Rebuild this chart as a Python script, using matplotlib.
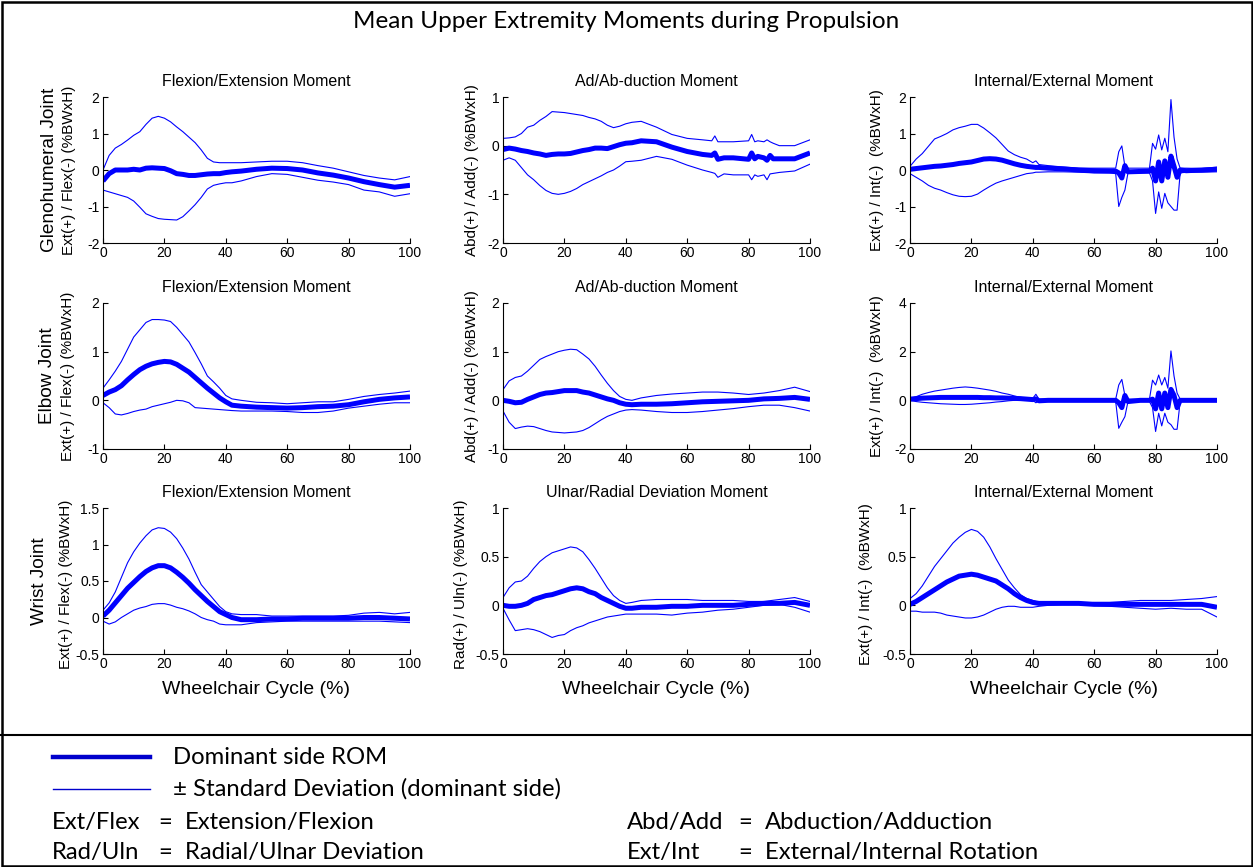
import matplotlib.pyplot as plt
from matplotlib.lines import Line2D
from matplotlib.patches import Rectangle
from matplotlib.ticker import FormatStrFormatter

# ---- data (% BW x H) ----
X = [0, 2, 4, 6, 8, 10, 12, 14, 16, 18, 20, 22, 24, 26, 28, 30, 32, 34, 36, 38, 40, 42,
     45, 50, 55, 60, 65, 70, 75, 80, 85, 90, 95, 100]

# glenohumeral, flexion/extension
gh_fe_mean = [-0.3, -0.1, 0.0, 0.0, 0.0, 0.02, 0.0, 0.05, 0.06, 0.05, 0.04, -0.02, -0.1, -0.12,
              -0.15, -0.15, -0.13, -0.11, -0.1, -0.1, -0.07, -0.05, -0.03, 0.02, 0.05, 0.04, 0.0,
              -0.08, -0.14, -0.22, -0.32, -0.4, -0.47, -0.42]
gh_fe_up = [0.0, 0.4, 0.6, 0.7, 0.82, 0.95, 1.05, 1.25, 1.42, 1.47, 1.42, 1.32, 1.18, 1.05, 0.9,
            0.75, 0.55, 0.32, 0.22, 0.2, 0.2, 0.2, 0.2, 0.22, 0.24, 0.24, 0.2, 0.12, 0.05, -0.05,
            -0.15, -0.22, -0.27, -0.18]
gh_fe_lo = [-0.55, -0.6, -0.65, -0.7, -0.75, -0.85, -1.02, -1.2, -1.27, -1.33, -1.35, -1.36, -1.37,
            -1.28, -1.12, -0.95, -0.75, -0.52, -0.42, -0.38, -0.35, -0.35, -0.3, -0.18, -0.1, -0.12,
            -0.2, -0.28, -0.33, -0.4, -0.55, -0.6, -0.72, -0.65]

# glenohumeral, ad/abduction
X_gh_aa = [0, 2, 4, 6, 8, 10, 12, 14, 16, 18, 20, 22, 24, 26, 28, 30, 32, 34, 36, 38, 40, 42, 45,
           50, 55, 60, 65, 68, 69, 70, 72, 75, 80, 81, 82, 83, 85, 86, 87, 88, 90, 95, 100]
gh_aa_mean = [-0.08, -0.05, -0.07, -0.1, -0.12, -0.15, -0.17, -0.2, -0.18, -0.17, -0.17, -0.16,
              -0.13, -0.1, -0.08, -0.05, -0.05, -0.06, -0.02, 0.02, 0.05, 0.06, 0.1, 0.08, -0.03,
              -0.12, -0.18, -0.2, -0.15, -0.28, -0.25, -0.25, -0.28, -0.15, -0.27, -0.22, -0.25,
              -0.3, -0.2, -0.27, -0.27, -0.27, -0.15]
gh_aa_up = [0.15, 0.16, 0.18, 0.25, 0.38, 0.42, 0.52, 0.6, 0.7, 0.69, 0.68, 0.66, 0.64, 0.62, 0.58,
            0.55, 0.5, 0.42, 0.37, 0.4, 0.45, 0.48, 0.5, 0.38, 0.23, 0.15, 0.12, 0.1, 0.2, 0.08,
            0.08, 0.08, 0.1, 0.23, 0.08, 0.1, 0.08, 0.12, 0.08, 0.05, 0.0, 0.0, 0.12]
gh_aa_lo = [-0.3, -0.25, -0.3, -0.45, -0.6, -0.7, -0.82, -0.92, -0.98, -1.0, -0.98, -0.94, -0.88,
            -0.8, -0.74, -0.68, -0.62, -0.55, -0.5, -0.42, -0.33, -0.32, -0.3, -0.22, -0.28, -0.4,
            -0.5, -0.55, -0.57, -0.65, -0.58, -0.6, -0.6, -0.7, -0.6, -0.63, -0.6, -0.7, -0.58,
            -0.57, -0.55, -0.52, -0.38]

# internal/external panels share a finer grid around the spikes
X_ie = [0, 2, 4, 6, 8, 10, 12, 14, 16, 18, 20, 22, 24, 26, 28, 30, 32, 34, 36, 38, 40, 41, 42, 45,
        50, 55, 60, 65, 67, 68, 69, 70, 71, 75, 78, 79, 80, 81, 82, 83, 84, 85, 86, 87, 88, 90,
        95, 100]
gh_ie_mean = [0.02, 0.04, 0.06, 0.08, 0.1, 0.11, 0.13, 0.15, 0.18, 0.2, 0.22, 0.26, 0.3, 0.31,
              0.3, 0.27, 0.22, 0.17, 0.13, 0.1, 0.08, 0.07, 0.07, 0.05, 0.03, 0.0, -0.02, -0.03,
              -0.03, -0.08, -0.22, 0.12, -0.05, -0.04, -0.03, 0.05, -0.3, 0.22, -0.3, 0.25, -0.2,
              0.38, 0.1, -0.2, 0.0, -0.02, 0.0, 0.02]
gh_ie_up = [0.1, 0.3, 0.45, 0.65, 0.85, 0.92, 1.0, 1.1, 1.16, 1.2, 1.25, 1.25, 1.15, 1.02, 0.88,
            0.7, 0.52, 0.42, 0.35, 0.3, 0.2, 0.25, 0.15, 0.12, 0.08, 0.05, 0.05, 0.05, 0.05, 0.5,
            0.66, 0.1, 0.05, 0.05, 0.05, 0.73, 0.57, 0.96, 0.55, 0.87, 0.5, 1.93, 0.9, 0.3, 0.05,
            0.05, 0.04, 0.08]
gh_ie_lo = [-0.1, -0.2, -0.3, -0.42, -0.5, -0.55, -0.62, -0.68, -0.72, -0.73, -0.72, -0.66, -0.55,
            -0.45, -0.36, -0.3, -0.25, -0.2, -0.15, -0.1, -0.08, -0.06, -0.06, -0.05, -0.05, -0.06,
            -0.08, -0.08, -0.1, -1.0, -0.75, -0.55, -0.08, -0.08, -0.08, -0.3, -1.19, -0.6, -1.05,
            -0.64, -0.9, -1.0, -1.1, -1.1, -0.08, -0.06, -0.06, -0.05]

# elbow
el_fe_mean = [0.1, 0.17, 0.22, 0.3, 0.42, 0.53, 0.63, 0.7, 0.75, 0.78, 0.8, 0.79, 0.74, 0.66, 0.58,
              0.47, 0.36, 0.25, 0.15, 0.05, -0.03, -0.1, -0.12, -0.14, -0.15, -0.16, -0.15, -0.13,
              -0.12, -0.09, -0.03, 0.02, 0.05, 0.07]
el_fe_up = [0.25, 0.42, 0.6, 0.8, 1.05, 1.3, 1.45, 1.6, 1.66, 1.66, 1.65, 1.62, 1.5, 1.35, 1.2,
            0.98, 0.75, 0.5, 0.38, 0.25, 0.1, 0.03, 0.0, -0.04, -0.05, -0.07, -0.05, -0.03, -0.03,
            0.02, 0.08, 0.12, 0.15, 0.19]
el_fe_lo = [-0.05, -0.15, -0.28, -0.3, -0.27, -0.23, -0.2, -0.18, -0.13, -0.1, -0.07, -0.04, 0.0,
            -0.01, -0.05, -0.15, -0.16, -0.17, -0.18, -0.19, -0.2, -0.21, -0.22, -0.22, -0.22,
            -0.23, -0.25, -0.25, -0.22, -0.16, -0.12, -0.08, -0.05, -0.05]

el_aa_mean = [0.0, -0.02, -0.05, -0.04, 0.02, 0.07, 0.12, 0.15, 0.16, 0.18, 0.2, 0.2, 0.2, 0.17,
              0.15, 0.11, 0.07, 0.03, 0.0, -0.05, -0.08, -0.09, -0.08, -0.08, -0.07, -0.05, -0.03,
              -0.02, -0.01, 0.0, 0.03, 0.04, 0.06, 0.02]
el_aa_up = [0.22, 0.4, 0.47, 0.5, 0.6, 0.72, 0.84, 0.9, 0.95, 1.0, 1.03, 1.05, 1.04, 0.95, 0.85,
            0.7, 0.52, 0.35, 0.2, 0.08, 0.02, 0.0, 0.05, 0.1, 0.13, 0.15, 0.17, 0.17, 0.15, 0.12,
            0.15, 0.2, 0.27, 0.18]
el_aa_lo = [-0.22, -0.45, -0.58, -0.55, -0.53, -0.54, -0.58, -0.62, -0.65, -0.66, -0.67, -0.66,
            -0.65, -0.62, -0.56, -0.48, -0.4, -0.33, -0.28, -0.23, -0.2, -0.19, -0.2, -0.23,
            -0.25, -0.25, -0.23, -0.2, -0.17, -0.13, -0.1, -0.1, -0.15, -0.22]

el_ie_mean = [0.05, 0.07, 0.09, 0.1, 0.11, 0.12, 0.12, 0.12, 0.12, 0.12, 0.12, 0.12, 0.11, 0.11,
              0.1, 0.1, 0.09, 0.08, 0.07, 0.05, 0.03, 0.06, -0.02, 0.0, 0.0, 0.0, 0.0, 0.0, 0.0,
              -0.1, -0.3, 0.2, -0.05, 0.0, 0.0, 0.05, -0.35, 0.3, -0.35, 0.3, -0.3, 0.45, 0.2,
              -0.3, 0.0, 0.0, 0.0, 0.0]
el_ie_up = [0.08, 0.15, 0.25, 0.32, 0.38, 0.42, 0.46, 0.5, 0.53, 0.55, 0.53, 0.5, 0.46, 0.42, 0.37,
            0.3, 0.25, 0.18, 0.12, 0.1, 0.08, 0.25, 0.05, 0.05, 0.05, 0.05, 0.05, 0.05, 0.05, 0.63,
            0.86, 0.2, 0.05, 0.05, 0.05, 0.83, 0.63, 1.04, 0.63, 0.94, 0.5, 2.03, 1.0, 0.3, 0.05,
            0.05, 0.05, 0.05]
el_ie_lo = [0.0, -0.05, -0.08, -0.1, -0.12, -0.14, -0.15, -0.16, -0.17, -0.17, -0.16, -0.14, -0.12,
            -0.1, -0.07, -0.05, -0.02, 0.0, 0.03, 0.02, 0.0, -0.1, -0.02, -0.05, -0.05, -0.05,
            -0.05, -0.05, -0.05, -1.15, -0.9, -0.67, -0.05, -0.05, -0.05, -0.3, -1.28, -0.53,
            -1.05, -0.53, -0.9, -1.0, -1.19, -1.19, -0.05, -0.05, -0.05, -0.05]

# wrist
wr_fe_mean = [0.02, 0.1, 0.2, 0.3, 0.4, 0.48, 0.56, 0.63, 0.68, 0.71, 0.71, 0.68, 0.62, 0.55, 0.47,
              0.38, 0.3, 0.22, 0.15, 0.08, 0.04, 0.0, -0.03, -0.03, -0.02, -0.02, -0.01, -0.01,
              -0.01, -0.01, 0.0, 0.0, -0.01, -0.02]
wr_fe_up = [0.1, 0.2, 0.35, 0.55, 0.75, 0.9, 1.02, 1.12, 1.2, 1.23, 1.22, 1.17, 1.08, 0.95, 0.8,
            0.62, 0.45, 0.35, 0.25, 0.15, 0.08, 0.05, 0.04, 0.04, 0.02, 0.02, 0.02, 0.02, 0.02,
            0.03, 0.06, 0.07, 0.05, 0.07]
wr_fe_lo = [-0.05, -0.09, -0.06, 0.0, 0.05, 0.1, 0.13, 0.15, 0.18, 0.19, 0.19, 0.17, 0.14, 0.12,
            0.09, 0.05, 0.0, -0.03, -0.05, -0.09, -0.1, -0.1, -0.1, -0.07, -0.06, -0.05, -0.05,
            -0.05, -0.05, -0.05, -0.05, -0.05, -0.06, -0.07]

wr_ur_mean = [0.0, -0.01, -0.01, 0.0, 0.02, 0.06, 0.08, 0.1, 0.11, 0.13, 0.15, 0.17, 0.18, 0.17,
              0.14, 0.12, 0.08, 0.05, 0.02, -0.01, -0.03, -0.03, -0.02, -0.02, -0.01, -0.01, 0.0,
              0.0, 0.0, 0.01, 0.02, 0.02, 0.03, 0.0]
wr_ur_up = [0.08, 0.18, 0.24, 0.25, 0.3, 0.38, 0.45, 0.5, 0.54, 0.56, 0.58, 0.6, 0.59, 0.55, 0.47,
            0.38, 0.28, 0.18, 0.1, 0.05, 0.02, 0.03, 0.05, 0.06, 0.06, 0.06, 0.05, 0.05, 0.05,
            0.04, 0.04, 0.06, 0.08, 0.04]
wr_ur_lo = [-0.03, -0.15, -0.26, -0.25, -0.24, -0.25, -0.27, -0.3, -0.33, -0.31, -0.3, -0.26,
            -0.23, -0.21, -0.18, -0.16, -0.14, -0.12, -0.11, -0.1, -0.09, -0.09, -0.09, -0.09,
            -0.1, -0.08, -0.07, -0.05, -0.04, -0.02, 0.0, 0.01, -0.02, -0.07]

wr_ie_mean = [0.01, 0.04, 0.08, 0.12, 0.16, 0.2, 0.24, 0.27, 0.3, 0.31, 0.32, 0.31, 0.29, 0.27,
              0.25, 0.21, 0.17, 0.12, 0.08, 0.05, 0.03, 0.02, 0.02, 0.02, 0.02, 0.01, 0.01, 0.01,
              0.01, 0.01, 0.01, 0.01, 0.01, -0.02]
wr_ie_up = [0.07, 0.12, 0.2, 0.3, 0.4, 0.48, 0.56, 0.64, 0.7, 0.75, 0.78, 0.76, 0.7, 0.6, 0.48,
            0.37, 0.26, 0.18, 0.11, 0.07, 0.05, 0.03, 0.02, 0.02, 0.02, 0.03, 0.03, 0.04, 0.05,
            0.05, 0.05, 0.06, 0.07, 0.09]
wr_ie_lo = [-0.06, -0.06, -0.07, -0.07, -0.07, -0.08, -0.1, -0.11, -0.12, -0.13, -0.13, -0.12,
            -0.1, -0.07, -0.04, -0.02, -0.01, -0.01, -0.02, -0.02, -0.02, -0.01, 0.0, 0.01, 0.01,
            0.0, -0.01, -0.02, -0.03, -0.04, -0.03, -0.04, -0.04, -0.12]

joints = ['Glenohumeral Joint', 'Elbow Joint', 'Wrist Joint']
titles = [['Flexion/Extension Moment', 'Ad/Ab-duction Moment', 'Internal/External Moment'],
          ['Flexion/Extension Moment', 'Ad/Ab-duction Moment', 'Internal/External Moment'],
          ['Flexion/Extension Moment', 'Ulnar/Radial Deviation Moment', 'Internal/External Moment']]
ylabels = [['Ext(+) / Flex(-) (%BWxH)', 'Abd(+) / Add(-) (%BWxH)', 'Ext(+) / Int(-)  (%BWxH)'],
           ['Ext(+) / Flex(-) (%BWxH)', 'Abd(+) / Add(-) (%BWxH)', 'Ext(+) / Int(-)  (%BWxH)'],
           ['Ext(+) / Flex(-) (%BWxH)', 'Rad(+) / Uln(-) (%BWxH)', 'Ext(+) / Int(-)  (%BWxH)']]
yticks = [[[-2, -1, 0, 1, 2], [-2, -1, 0, 1], [-2, -1, 0, 1, 2]],
          [[-1, 0, 1, 2], [-1, 0, 1, 2], [-2, 0, 2, 4]],
          [[-0.5, 0, 0.5, 1, 1.5], [-0.5, 0, 0.5, 1], [-0.5, 0, 0.5, 1]]]
series = [[(X, gh_fe_mean, gh_fe_up, gh_fe_lo), (X_gh_aa, gh_aa_mean, gh_aa_up, gh_aa_lo),
           (X_ie, gh_ie_mean, gh_ie_up, gh_ie_lo)],
          [(X, el_fe_mean, el_fe_up, el_fe_lo), (X, el_aa_mean, el_aa_up, el_aa_lo),
           (X_ie, el_ie_mean, el_ie_up, el_ie_lo)],
          [(X, wr_fe_mean, wr_fe_up, wr_fe_lo), (X, wr_ur_mean, wr_ur_up, wr_ur_lo),
           (X, wr_ie_mean, wr_ie_up, wr_ie_lo)]]

# ---- layout in pixels ----
W, H = 1253, 867
col_left = [103, 503, 910]
row_top = [97, 303, 508]
ax_w, ax_h = 307, 146
ylab_x = [[69, 472, 877], [68, 472, 877], [66, 461, 866]]
joint_x = [50, 48, 40]

MAT = 'Liberation Sans'
CAL = 'Lato'

fig = plt.figure(figsize=(W / 100, H / 100), dpi=100)


def fx(px):
    return px / W


def fy(py):
    return 1 - py / H


for r in range(3):
    for c in range(3):
        L, T = col_left[c], row_top[r]
        ax = fig.add_axes([fx(L), fy(T + ax_h), ax_w / W, ax_h / H])
        x, m, up, lo = series[r][c]
        ax.plot(x, up, color='blue', lw=0.8)
        ax.plot(x, lo, color='blue', lw=0.8)
        ax.plot(x, m, color='blue', lw=3.6, solid_capstyle='butt')
        ax.set_xlim(0, 100)
        ax.set_ylim(yticks[r][c][0], yticks[r][c][-1])
        ax.set_xticks([0, 20, 40, 60, 80, 100])
        ax.set_yticks(yticks[r][c])
        ax.yaxis.set_major_formatter(FormatStrFormatter('%g'))
        for s in ('top', 'right'):
            ax.spines[s].set_visible(False)
        for s in ('left', 'bottom'):
            ax.spines[s].set_linewidth(0.8)
        ax.tick_params(direction='in', length=3.5, width=0.8, pad=2.5, labelsize=10)
        for lab in ax.get_xticklabels() + ax.get_yticklabels():
            lab.set_fontfamily(MAT)
        fig.text(fx(L + ax_w / 2), fy(T - 16), titles[r][c], ha='center', va='center',
                 fontsize=11.5, family=MAT)
        fig.text(fx(ylab_x[r][c]), fy(T + ax_h / 2 + (3 if r == 2 else 0)), ylabels[r][c],
                 rotation=90, ha='center', va='center', fontsize=11, family=MAT)
        if r == 2:
            fig.text(fx(L + ax_w / 2), fy(T + ax_h + 36), 'Wheelchair Cycle (%)',
                     ha='center', va='center', fontsize=14, family=MAT)
    fig.text(fx(joint_x[r]), fy(row_top[r] + ax_h / 2), joints[r], rotation=90, ha='center',
             va='center', fontsize=13.7, family=MAT)

fig.text(0.5, fy(21), 'Mean Upper Extremity Moments during Propulsion', ha='center',
         va='center', fontsize=17.5, family=CAL)

# frame and divider
fig.add_artist(Rectangle((fx(1.5), fy(865.5)), fx(1250), 1 - fy(864), transform=fig.transFigure,
                         fill=False, ec='black', lw=1.8))
fig.add_artist(Line2D([0, 1], [fy(735), fy(735)], transform=fig.transFigure, color='black',
                      lw=1.5))

# key
fig.add_artist(Line2D([fx(53), fx(150)], [fy(757), fy(757)], transform=fig.transFigure,
                      color='#0000cc', lw=3.2))
fig.add_artist(Line2D([fx(53), fx(150)], [fy(789), fy(789)], transform=fig.transFigure,
                      color='#0000cc', lw=1))
fig.text(fx(173), fy(757), 'Dominant side ROM', va='center', fontsize=17.2, family=CAL)
fig.text(fx(173), fy(789), '\u00b1 Standard Deviation (dominant side)', va='center',
         fontsize=17.2, family=CAL)
abbrevs = [('Ext/Flex', 'Extension/Flexion', 52, 158, 185, 822),
           ('Rad/Uln', 'Radial/Ulnar Deviation', 52, 158, 185, 853),
           ('Abd/Add', 'Abduction/Adduction', 627, 738, 765, 822),
           ('Ext/Int', 'External/Internal Rotation', 627, 738, 765, 853)]
for short, full, x0, xeq, xdef, y0 in abbrevs:
    fig.text(fx(x0), fy(y0), short, va='center', fontsize=17.2, family=CAL)
    fig.text(fx(xeq), fy(y0), '=', va='center', fontsize=17.2, family=CAL)
    fig.text(fx(xdef), fy(y0), full, va='center', fontsize=17.2, family=CAL)

fig.savefig('out.png', dpi=100, facecolor='white')
